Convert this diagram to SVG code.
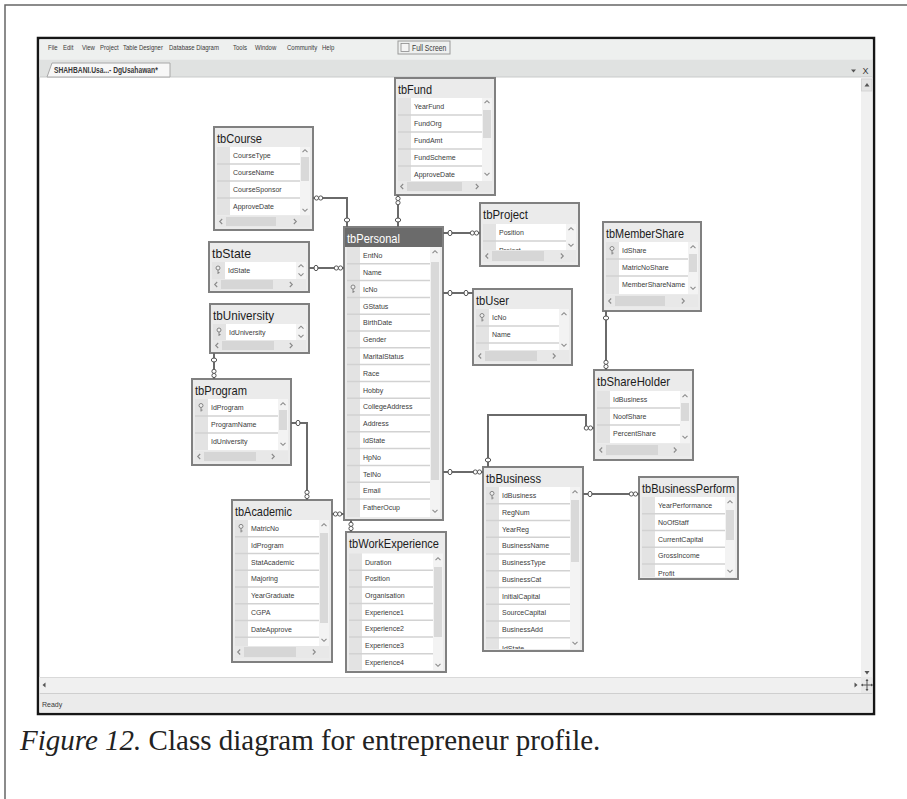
<svg xmlns="http://www.w3.org/2000/svg" xmlns:xlink="http://www.w3.org/1999/xlink" width="907" height="799" viewBox="0 0 907 799">
  <style>
    .frame{fill:none;stroke:#666;stroke-width:1.5}
    .win{fill:#fff;stroke:#161616;stroke-width:2.5}
    .menu{font-family:"Liberation Sans",Arial,sans-serif;font-size:6px;fill:#3a3a3a}
    .box{fill:#ebebeb;stroke:#808080;stroke-width:2}
    .ttl{font-family:"Liberation Sans",Arial,sans-serif;font-size:13px;fill:#1c1c1c}
    .ttlw{fill:#fff}
    .gut{fill:#e3e3e3}
    .cell{fill:#fff}
    .vs{fill:#f3f3f3}
    .thumb{fill:#d9d9d9}
    .sep{stroke:#d2d2d2;stroke-width:1.5;fill:none}
    .fld{font-family:"Liberation Sans",Arial,sans-serif;font-size:7px;fill:#3b3b3b}
    .hs{fill:#e8e8e8}
    .hthumb{fill:#d6d6d6}
    .chev{fill:none;stroke:#8a8a8a;stroke-width:1.1}
    .link{fill:none;stroke:#6a6a6a;stroke-width:2}
    .keyi{fill:#eee;stroke:#7a7a7a;stroke-width:.9}
    .cap{font-family:"Liberation Serif","Times New Roman",serif;font-size:29px;fill:#222}
  </style>
  <defs>
    <!-- relationship end symbols -->
    <marker id="one" markerUnits="userSpaceOnUse" markerWidth="20" markerHeight="12" refX="0" refY="0" orient="auto-start-reverse" overflow="visible" style="overflow:visible">
      <ellipse cx="-7" cy="0" rx="2" ry="2.7" fill="#fff" stroke="#555" stroke-width="1"/>
    </marker>
    <marker id="many" markerUnits="userSpaceOnUse" markerWidth="20" markerHeight="12" refX="0" refY="0" orient="auto-start-reverse" overflow="visible" style="overflow:visible">
      <circle cx="-3.5" cy="0" r="2.1" fill="#fff" stroke="#555" stroke-width="1"/>
      <circle cx="-7.7" cy="0" r="2.1" fill="#fff" stroke="#555" stroke-width="1"/>
    </marker>
    <!-- scroll arrows and key glyph -->
    <path id="cu" class="chev" d="M-2.5,1.2 L0,-1.3 L2.5,1.2"/>
    <path id="cd" class="chev" d="M-2.5,-1.2 L0,1.3 L2.5,-1.2"/>
    <path id="cl" class="chev" d="M1.2,-2.5 L-1.3,0 L1.2,2.5"/>
    <path id="cr" class="chev" d="M-1.2,-2.5 L1.3,0 L-1.2,2.5"/>
    <g id="key" class="keyi"><circle cx="0" cy="-2" r="2"/><path d="M0,0 V4 M0,2.6 H1.6" fill="none"/></g>
    <clipPath id="clipBus"><rect x="486" y="487" width="94" height="162"/></clipPath>
    <clipPath id="clipPerf"><rect x="642" y="497" width="93" height="80"/></clipPath>
  </defs>

  <!-- page frame -->
  <path class="frame" d="M907,5 H5 V799"/>

  <!-- application window -->
  <g id="window">
    <rect class="win" x="38" y="38" width="836" height="676"/>
    <rect x="39.5" y="39.5" width="833" height="20" fill="#eef0ef"/>
    <rect x="39.5" y="59.5" width="833" height="17.5" fill="#e0e2e1"/>
    <line x1="39.5" y1="77" x2="872.5" y2="77" stroke="#c9cbca" stroke-width="1"/>
    <!-- menu labels: narrow type stretched vertically -->
    <g transform="translate(0,50) scale(1,1.3) translate(0,-50)">
      <text class="menu" x="48" y="50">File</text>
      <text class="menu" x="63" y="50">Edit</text>
      <text class="menu" x="82" y="50">View</text>
      <text class="menu" x="100" y="50">Project</text>
      <text class="menu" x="123" y="50">Table Designer</text>
      <text class="menu" x="169" y="50">Database Diagram</text>
      <text class="menu" x="233" y="50">Tools</text>
      <text class="menu" x="255" y="50">Window</text>
      <text class="menu" x="287" y="50">Community</text>
      <text class="menu" x="322" y="50">Help</text>
      <text class="menu" x="412" y="50.5" style="font-size:6.8px">Full Screen</text>
    </g>
    <rect x="398" y="41" width="52" height="13" fill="none" stroke="#9a9a9a" stroke-width="1"/>
    <rect x="401" y="43.5" width="8" height="8" fill="#f4f4f4" stroke="#8a8a8a" stroke-width=".8"/>
    <!-- document tab -->
    <path d="M47,77 L52,63 H170 V77 Z" fill="#f7f7f7" stroke="#a8a8a8" stroke-width="1"/>
    <g transform="translate(0,73) scale(1,1.25) translate(0,-73)">
      <text class="menu" x="54" y="73" font-weight="bold" style="font-size:6.7px">SHAHBANI.Usa...- DgUsahawan*</text>
    </g>
    <path d="M851,69.5 H856 L853.5,72.5 Z" fill="#555"/>
    <text class="menu" x="862.5" y="74" style="font-size:9px">X</text>
    <!-- vertical scrollbar -->
    <rect x="861" y="77.5" width="11.5" height="600" fill="#f0f0f0"/>
    <rect x="861.5" y="79" width="10.5" height="12" fill="#e4e4e4" stroke="#d0d0d0" stroke-width=".8"/>
    <path d="M864.5,86.5 L867,83 L869.5,86.5 Z" fill="#555"/>
    <path d="M864.5,671 L867,674.5 L869.5,671 Z" fill="#555"/>
    <!-- horizontal scrollbar -->
    <rect x="39.5" y="677" width="822" height="16" fill="#f0f0f0"/>
    <line x1="39.5" y1="677.5" x2="861" y2="677.5" stroke="#d9d9d9" stroke-width="1"/>
    <path d="M45.5,682.5 L42.5,685 L45.5,687.5 Z" fill="#555"/>
    <path d="M854.5,682.5 L857.5,685 L854.5,687.5 Z" fill="#555"/>
    <!-- pan corner -->
    <rect x="861" y="677" width="11.5" height="16" fill="#e8e8e8"/>
    <path d="M867,679.5 V690.5 M861.5,685 H872.5" stroke="#555" stroke-width="1"/>
    <path d="M865.5,681 L867,679 L868.5,681 Z M865.5,689 L867,691 L868.5,689 Z M863,683.5 L861,685 L863,686.5 Z M871,683.5 L873,685 L871,686.5 Z" fill="#555"/>
    <!-- status bar -->
    <rect x="39.5" y="693" width="833" height="19.5" fill="#ebebeb"/>
    <line x1="39.5" y1="693.5" x2="872.5" y2="693.5" stroke="#cfcfcf" stroke-width="1"/>
    <text class="menu" x="42" y="707" style="font-size:7px">Ready</text>
  </g>

  <!-- tables -->
  <g id="tbCourse">
    <rect class="box" x="214" y="127" width="99" height="103"/>
    <text class="ttl" x="217" y="143" textLength="45" lengthAdjust="spacingAndGlyphs">tbCourse</text>
    <rect class="gut" x="217" y="147" width="13" height="68"/>
    <rect class="cell" x="230" y="147" width="70" height="68"/>
    <rect class="vs" x="300" y="147" width="10" height="68"/>
    <rect class="thumb" x="301" y="157" width="8" height="24"/>
    <path class="sep" d="M217,164H300M217,181H300M217,198H300"/>
    <use xlink:href="#cu" x="305" y="151"/><use xlink:href="#cd" x="305" y="210"/>
    <text class="fld" x="233" y="158">CourseType</text>
    <text class="fld" x="233" y="175">CourseName</text>
    <text class="fld" x="233" y="192">CourseSponsor</text>
    <text class="fld" x="233" y="209">ApproveDate</text>
    <rect class="hs" x="217" y="216" width="93" height="11"/>
    <rect class="hthumb" x="226" y="217" width="50" height="9"/>
    <use xlink:href="#cl" x="221" y="221.5"/><use xlink:href="#cr" x="295" y="221.5"/>
  </g>

  <g id="tbFund">
    <rect class="box" x="395" y="78" width="100" height="117"/>
    <text class="ttl" x="398" y="94" textLength="34" lengthAdjust="spacingAndGlyphs">tbFund</text>
    <rect class="gut" x="398" y="98" width="13" height="83"/>
    <rect class="cell" x="411" y="98" width="71" height="83"/>
    <rect class="vs" x="482" y="98" width="10" height="83"/>
    <rect class="thumb" x="483" y="110" width="8" height="28"/>
    <path class="sep" d="M398,115H482M398,132H482M398,149H482M398,166H482"/>
    <use xlink:href="#cu" x="487" y="102"/><use xlink:href="#cd" x="487" y="174"/>
    <text class="fld" x="414" y="109">YearFund</text>
    <text class="fld" x="414" y="126">FundOrg</text>
    <text class="fld" x="414" y="143">FundAmt</text>
    <text class="fld" x="414" y="160">FundScheme</text>
    <text class="fld" x="414" y="177">ApproveDate</text>
    <rect class="hs" x="398" y="181" width="94" height="11"/>
    <rect class="hthumb" x="407" y="182" width="55" height="9"/>
    <use xlink:href="#cl" x="402" y="186.5"/><use xlink:href="#cr" x="477" y="186.5"/>
  </g>

  <g id="tbProject">
    <rect class="box" x="480" y="203" width="99" height="63"/>
    <text class="ttl" x="483" y="219" textLength="45" lengthAdjust="spacingAndGlyphs">tbProject</text>
    <rect class="gut" x="483" y="224" width="13" height="26"/>
    <rect class="cell" x="496" y="224" width="70" height="26"/>
    <rect class="vs" x="566" y="224" width="10" height="26"/>
    <path class="sep" d="M483,241H566"/>
    <use xlink:href="#cu" x="571" y="229"/><use xlink:href="#cd" x="571" y="245"/>
    <text class="fld" x="499" y="235">Position</text>
    <text class="fld" x="499" y="252.5">Project</text>
    <rect class="hs" x="483" y="250" width="93" height="12"/>
    <rect class="hthumb" x="492" y="251" width="52" height="10"/>
    <use xlink:href="#cl" x="487" y="256"/><use xlink:href="#cr" x="562" y="256"/>
  </g>

  <g id="tbPersonal">
    <rect class="box" x="344" y="227" width="99" height="293"/>
    <rect x="345" y="228" width="97" height="19" fill="#6b6b6b"/>
    <text class="ttl ttlw" x="347" y="243" textLength="53" lengthAdjust="spacingAndGlyphs">tbPersonal</text>
    <rect class="gut" x="347" y="247" width="13" height="270"/>
    <rect class="cell" x="360" y="247" width="70" height="270"/>
    <rect class="vs" x="430" y="247" width="10" height="270"/>
    <rect class="thumb" x="431" y="262" width="8" height="218"/>
    <path class="sep" d="M347,263.8H430M347,280.6H430M347,297.4H430M347,314.2H430M347,331H430M347,347.8H430M347,364.6H430M347,381.4H430M347,398.2H430M347,415H430M347,431.8H430M347,448.6H430M347,465.4H430M347,482.2H430M347,499H430"/>
    <use xlink:href="#cu" x="435" y="252"/><use xlink:href="#cd" x="435" y="511"/>
    <use xlink:href="#key" x="353" y="289"/>
    <text class="fld" x="363" y="258.1">EntNo</text>
    <text class="fld" x="363" y="274.9">Name</text>
    <text class="fld" x="363" y="291.7">IcNo</text>
    <text class="fld" x="363" y="308.5">GStatus</text>
    <text class="fld" x="363" y="325.3">BirthDate</text>
    <text class="fld" x="363" y="342.1">Gender</text>
    <text class="fld" x="363" y="358.9">MaritalStatus</text>
    <text class="fld" x="363" y="375.7">Race</text>
    <text class="fld" x="363" y="392.5">Hobby</text>
    <text class="fld" x="363" y="409.3">CollegeAddress</text>
    <text class="fld" x="363" y="426.1">Address</text>
    <text class="fld" x="363" y="442.9">IdState</text>
    <text class="fld" x="363" y="459.7">HpNo</text>
    <text class="fld" x="363" y="476.5">TelNo</text>
    <text class="fld" x="363" y="493.3">Email</text>
    <text class="fld" x="363" y="510.1">FatherOcup</text>
  </g>

  <g id="tbState">
    <rect class="box" x="209" y="242" width="100" height="50"/>
    <text class="ttl" x="212" y="258" textLength="39" lengthAdjust="spacingAndGlyphs">tbState</text>
    <rect class="gut" x="212" y="262" width="13" height="17"/>
    <rect class="cell" x="225" y="262" width="71" height="17"/>
    <rect class="vs" x="296" y="262" width="10" height="17"/>
    <use xlink:href="#cu" x="301" y="266"/><use xlink:href="#cd" x="301" y="274.5"/>
    <use xlink:href="#key" x="218" y="270"/>
    <text class="fld" x="228" y="273">IdState</text>
    <rect class="hs" x="212" y="279" width="94" height="11"/>
    <rect class="hthumb" x="221" y="280" width="52" height="9"/>
    <use xlink:href="#cl" x="216" y="284.5"/><use xlink:href="#cr" x="291" y="284.5"/>
  </g>

  <g id="tbUniversity">
    <rect class="box" x="210" y="304" width="99" height="49"/>
    <text class="ttl" x="213" y="320" textLength="61" lengthAdjust="spacingAndGlyphs">tbUniversity</text>
    <rect class="gut" x="213" y="324" width="13" height="16"/>
    <rect class="cell" x="226" y="324" width="70" height="16"/>
    <rect class="vs" x="296" y="324" width="10" height="16"/>
    <use xlink:href="#cu" x="301" y="327.5"/><use xlink:href="#cd" x="301" y="336"/>
    <use xlink:href="#key" x="219" y="332"/>
    <text class="fld" x="229" y="335">IdUniversity</text>
    <rect class="hs" x="213" y="340" width="93" height="11"/>
    <rect class="hthumb" x="222" y="341" width="52" height="9"/>
    <use xlink:href="#cl" x="217" y="345.5"/><use xlink:href="#cr" x="291" y="345.5"/>
  </g>

  <g id="tbProgram">
    <rect class="box" x="192" y="379" width="99" height="86"/>
    <text class="ttl" x="195" y="395" textLength="52" lengthAdjust="spacingAndGlyphs">tbProgram</text>
    <rect class="gut" x="195" y="399" width="13" height="51"/>
    <rect class="cell" x="208" y="399" width="70" height="51"/>
    <rect class="vs" x="278" y="399" width="10" height="51"/>
    <rect class="thumb" x="279" y="410" width="8" height="20"/>
    <path class="sep" d="M195,416H278M195,433H278"/>
    <use xlink:href="#cu" x="283" y="404"/><use xlink:href="#cd" x="283" y="444"/>
    <use xlink:href="#key" x="201" y="407.5"/>
    <text class="fld" x="211" y="410">IdProgram</text>
    <text class="fld" x="211" y="427">ProgramName</text>
    <text class="fld" x="211" y="444">IdUniversity</text>
    <rect class="hs" x="195" y="451" width="93" height="11"/>
    <rect class="hthumb" x="204" y="452" width="52" height="9"/>
    <use xlink:href="#cl" x="199" y="456.5"/><use xlink:href="#cr" x="273" y="456.5"/>
  </g>

  <g id="tbUser">
    <rect class="box" x="473" y="289" width="99" height="76"/>
    <text class="ttl" x="476" y="305" textLength="33" lengthAdjust="spacingAndGlyphs">tbUser</text>
    <rect class="gut" x="476" y="309" width="13" height="41"/>
    <rect class="cell" x="489" y="309" width="70" height="41"/>
    <rect class="vs" x="559" y="309" width="10" height="41"/>
    <path class="sep" d="M476,326H559M476,343H559"/>
    <use xlink:href="#cu" x="564" y="314"/><use xlink:href="#cd" x="564" y="345"/>
    <use xlink:href="#key" x="482" y="317.5"/>
    <text class="fld" x="492" y="320">IcNo</text>
    <text class="fld" x="492" y="337">Name</text>
    <rect class="hs" x="476" y="350" width="93" height="12"/>
    <rect class="hthumb" x="485" y="351" width="52" height="10"/>
    <use xlink:href="#cl" x="480" y="356"/><use xlink:href="#cr" x="554" y="356"/>
  </g>

  <g id="tbMemberShare">
    <rect class="box" x="603" y="222" width="98" height="89"/>
    <text class="ttl" x="606" y="238" textLength="78" lengthAdjust="spacingAndGlyphs">tbMemberShare</text>
    <rect class="gut" x="606" y="242" width="13" height="52"/>
    <rect class="cell" x="619" y="242" width="69" height="52"/>
    <rect class="vs" x="688" y="242" width="10" height="52"/>
    <rect class="thumb" x="689" y="254" width="8" height="18"/>
    <path class="sep" d="M606,259H688M606,276H688"/>
    <use xlink:href="#cu" x="693" y="247"/><use xlink:href="#cd" x="693" y="288"/>
    <use xlink:href="#key" x="612" y="250.5"/>
    <text class="fld" x="622" y="253">IdShare</text>
    <text class="fld" x="622" y="270">MatricNoShare</text>
    <text class="fld" x="622" y="287">MemberShareName</text>
    <rect class="hs" x="606" y="295" width="92" height="12"/>
    <rect class="hthumb" x="615" y="296" width="50" height="10"/>
    <use xlink:href="#cl" x="610" y="301"/><use xlink:href="#cr" x="683" y="301"/>
  </g>

  <g id="tbShareHolder">
    <rect class="box" x="594" y="370" width="99" height="90"/>
    <text class="ttl" x="597" y="386" textLength="73" lengthAdjust="spacingAndGlyphs">tbShareHolder</text>
    <rect class="gut" x="597" y="391" width="13" height="52"/>
    <rect class="cell" x="610" y="391" width="70" height="52"/>
    <rect class="vs" x="680" y="391" width="10" height="52"/>
    <rect class="thumb" x="681" y="403" width="8" height="18"/>
    <path class="sep" d="M597,408H680M597,425H680"/>
    <use xlink:href="#cu" x="685" y="396"/><use xlink:href="#cd" x="685" y="437"/>
    <text class="fld" x="613" y="402">IdBusiness</text>
    <text class="fld" x="613" y="419">NoofShare</text>
    <text class="fld" x="613" y="436">PercentShare</text>
    <rect class="hs" x="597" y="444" width="93" height="12"/>
    <rect class="hthumb" x="606" y="445" width="52" height="10"/>
    <use xlink:href="#cl" x="601" y="450"/><use xlink:href="#cr" x="675" y="450"/>
  </g>

  <g id="tbBusiness">
    <rect class="box" x="483" y="467" width="100" height="184"/>
    <text class="ttl" x="486" y="483" textLength="55" lengthAdjust="spacingAndGlyphs">tbBusiness</text>
    <rect class="gut" x="486" y="487" width="13" height="162"/>
    <rect class="cell" x="499" y="487" width="71" height="162"/>
    <rect class="vs" x="570" y="487" width="10" height="162"/>
    <rect class="thumb" x="571" y="500" width="8" height="62"/>
    <path class="sep" d="M486,503.75H570M486,520.5H570M486,537.25H570M486,554H570M486,570.75H570M486,587.5H570M486,604.25H570M486,621H570M486,637.75H570"/>
    <use xlink:href="#cu" x="575" y="492"/><use xlink:href="#cd" x="575" y="643"/>
    <use xlink:href="#key" x="492" y="495.4"/>
    <g clip-path="url(#clipBus)">
      <text class="fld" x="502" y="498">IdBusiness</text>
      <text class="fld" x="502" y="514.75">RegNum</text>
      <text class="fld" x="502" y="531.5">YearReg</text>
      <text class="fld" x="502" y="548.25">BusinessName</text>
      <text class="fld" x="502" y="565">BusinessType</text>
      <text class="fld" x="502" y="581.75">BusinessCat</text>
      <text class="fld" x="502" y="598.5">InitialCapital</text>
      <text class="fld" x="502" y="615.25">SourceCapital</text>
      <text class="fld" x="502" y="632">BusinessAdd</text>
      <text class="fld" x="502" y="650.5">IdState</text>
    </g>
  </g>

  <g id="tbBusinessPerform">
    <rect class="box" x="639" y="477" width="99" height="102"/>
    <text class="ttl" x="642" y="493" textLength="93" lengthAdjust="spacingAndGlyphs">tbBusinessPerform</text>
    <rect class="gut" x="642" y="497" width="13" height="80"/>
    <rect class="cell" x="655" y="497" width="70" height="80"/>
    <rect class="vs" x="725" y="497" width="10" height="80"/>
    <rect class="thumb" x="726" y="510" width="8" height="30"/>
    <path class="sep" d="M642,513.75H725M642,530.5H725M642,547.25H725M642,564H725"/>
    <use xlink:href="#cu" x="730" y="502"/><use xlink:href="#cd" x="730" y="571"/>
    <g clip-path="url(#clipPerf)">
      <text class="fld" x="658" y="508">YearPerformance</text>
      <text class="fld" x="658" y="524.75">NoOfStaff</text>
      <text class="fld" x="658" y="541.5">CurrentCapital</text>
      <text class="fld" x="658" y="558.25">GrossIncome</text>
      <text class="fld" x="658" y="576">Profit</text>
    </g>
  </g>

  <g id="tbAcademic">
    <rect class="box" x="232" y="500" width="100" height="162"/>
    <text class="ttl" x="235" y="516" textLength="57" lengthAdjust="spacingAndGlyphs">tbAcademic</text>
    <rect class="gut" x="235" y="520" width="13" height="126"/>
    <rect class="cell" x="248" y="520" width="71" height="126"/>
    <rect class="vs" x="319" y="520" width="10" height="126"/>
    <rect class="thumb" x="320" y="533" width="8" height="90"/>
    <path class="sep" d="M235,536.75H319M235,553.5H319M235,570.25H319M235,587H319M235,603.75H319M235,620.5H319M235,637.25H319"/>
    <use xlink:href="#cu" x="324" y="525"/><use xlink:href="#cd" x="324" y="640"/>
    <use xlink:href="#key" x="241" y="528.4"/>
    <text class="fld" x="251" y="531">MatricNo</text>
    <text class="fld" x="251" y="547.75">IdProgram</text>
    <text class="fld" x="251" y="564.5">StatAcademic</text>
    <text class="fld" x="251" y="581.25">Majoring</text>
    <text class="fld" x="251" y="598">YearGraduate</text>
    <text class="fld" x="251" y="614.75">CGPA</text>
    <text class="fld" x="251" y="631.5">DateApprove</text>
    <rect class="hs" x="235" y="646" width="94" height="12"/>
    <rect class="hthumb" x="244" y="647" width="52" height="10"/>
    <use xlink:href="#cl" x="239" y="652"/><use xlink:href="#cr" x="314" y="652"/>
  </g>

  <g id="tbWorkExperience">
    <rect class="box" x="346" y="532" width="100" height="140"/>
    <text class="ttl" x="349" y="548" textLength="90" lengthAdjust="spacingAndGlyphs">tbWorkExperience</text>
    <rect class="gut" x="349" y="553.5" width="13" height="116.5"/>
    <rect class="cell" x="362" y="553.5" width="71" height="116.5"/>
    <rect class="vs" x="433" y="553.5" width="10" height="116.5"/>
    <rect class="thumb" x="434" y="567" width="8" height="70"/>
    <path class="sep" d="M349,570.2H433M349,586.9H433M349,603.6H433M349,620.3H433M349,637H433M349,653.7H433"/>
    <use xlink:href="#cu" x="438" y="559"/><use xlink:href="#cd" x="438" y="665"/>
    <text class="fld" x="365" y="564.5">Duration</text>
    <text class="fld" x="365" y="581.2">Position</text>
    <text class="fld" x="365" y="597.9">Organisation</text>
    <text class="fld" x="365" y="614.6">Experience1</text>
    <text class="fld" x="365" y="631.3">Experience2</text>
    <text class="fld" x="365" y="648">Experience3</text>
    <text class="fld" x="365" y="664.7">Experience4</text>
  </g>

  <!-- relationships -->
  <g id="connectors">
    <path class="link" d="M313,198 H347 V227" marker-start="url(#many)" marker-end="url(#one)"/>
    <path class="link" d="M398,195 V227" marker-start="url(#many)" marker-end="url(#one)"/>
    <path class="link" d="M443,233 H480" marker-start="url(#one)" marker-end="url(#many)"/>
    <path class="link" d="M309,268 H344" marker-start="url(#one)" marker-end="url(#many)"/>
    <path class="link" d="M443,293 H473" marker-start="url(#one)" marker-end="url(#one)"/>
    <path class="link" d="M443,472 H483" marker-start="url(#one)" marker-end="url(#many)"/>
    <path class="link" d="M488,467 V415 H586 V428 H594" marker-start="url(#one)" marker-end="url(#many)"/>
    <path class="link" d="M606,311 V370" marker-start="url(#one)" marker-end="url(#many)"/>
    <path class="link" d="M583,494 H639" marker-start="url(#one)" marker-end="url(#many)"/>
    <path class="link" d="M214,353 V379" marker-start="url(#one)" marker-end="url(#many)"/>
    <path class="link" d="M291,423 H307 V500" marker-start="url(#one)" marker-end="url(#many)"/>
    <path class="link" d="M344,514 H332" marker-end="url(#many)"/>
    <path class="link" d="M351,520 V532" marker-end="url(#many)"/>
  </g>

  <!-- caption -->
  <text class="cap" x="20" y="750"><tspan font-style="italic">Figure 12.</tspan> Class diagram for entrepreneur profile.</text>
</svg>
